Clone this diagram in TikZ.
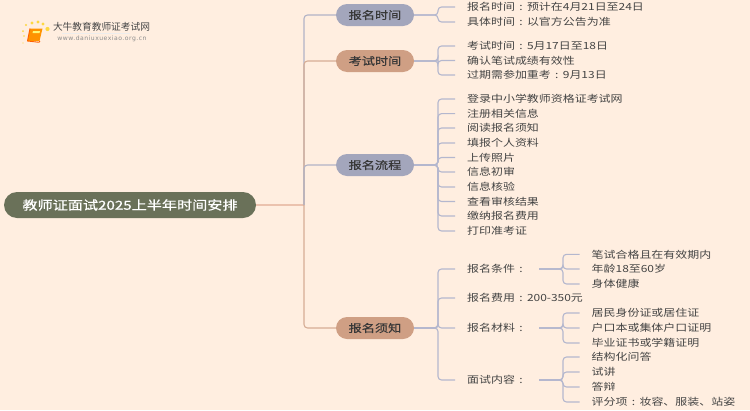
\documentclass[tikz,border=0pt]{standalone}
\usepackage{fontspec}
\setmainfont[FakeStretch=1.22]{Noto Sans CJK SC}
\newfontfamily\wideboldcjk[FakeStretch=1.22,FakeBold=0.6]{Noto Sans CJK SC}
\newfontfamily\logofont{Noto Sans CJK SC}
\newfontfamily\urlfont[LetterSpace=8]{DejaVu Sans}
\newcommand{\colonbox}{\hbox to 12pt{\hss:\hss}}
\definecolor{bgc}{HTML}{FFEEE0}
\definecolor{rootc}{HTML}{6A7159}
\definecolor{lavc}{HTML}{A3A6BC}
\definecolor{peachc}{HTML}{CF9F84}
\definecolor{stubc}{HTML}{B4B7CE}
\definecolor{rootline}{HTML}{EBC2AE}
\definecolor{textc}{HTML}{444444}
\tikzset{
  x=1pt,y=-1pt,
  rootbox/.style={draw=none,fill=rootc,rounded corners=13pt,minimum width=252pt,minimum height=26pt,inner sep=0pt,text=white,font=\wideboldcjk\fontsize{12.4}{14}\selectfont},
  topicbox/.style={draw=none,rounded corners=11pt,minimum width=78pt,minimum height=22pt,inner sep=0pt,text=black!78,font=\wideboldcjk\fontsize{10.8}{12}\selectfont},
  leafbox/.style={anchor=west,inner xsep=12pt,inner ysep=0pt,text=textc,font=\fontsize{9.8}{11}\selectfont},
  lavline/.style={draw=lavc!85,line width=1.1pt,rounded corners=3.5pt},
  peachline/.style={draw=peachc!85,line width=1.1pt,rounded corners=3.5pt},
  stubline/.style={draw=stubc,line width=1.1pt,rounded corners=3.5pt},
}
\begin{document}
\begin{tikzpicture}
\useasboundingbox (0,0) rectangle (750,410);
\fill[bgc] (0,0) rectangle (750,410);
% logo
\foreach \a/\b/\r in {23/43/0.7,24/36/0.9,23/31/1.0,26/25/1.2,32/23/1.6,38/22/1.7,43/24/1.6,47.5/29/2.1}{\fill[yellow!65!orange!75] (\a,\b) circle (\r);}
\fill[orange!85!yellow] (30,28.5) -- (42.5,28.5) -- (39.5,41) -- (27.5,41) -- cycle;
\draw[orange!75!red,line width=0.9pt,line join=round] (30,28.5) -- (27.5,41) -- (39,42.3) -- (40,41);
\fill[yellow!55] (33,31) -- (40,31) -- (39.5,33) -- (32.5,33) -- cycle;
\fill[black!7] (62,33.2) rectangle (130,34);
\node[inner sep=0pt,text=black!72] (logoA) at (101.5,27) {\logofont\fontsize{9.7}{12}\selectfont 大牛教育教师证考试网};
\node[inner sep=0pt,text=black!45] (logoB) at (102,39) {\urlfont\fontsize{6.1}{7}\selectfont www.daniuxuexiao.org.cn};
% anchors for trunk and brackets
\coordinate (trunk) at (304,0);
\coordinate (brA) at (438,0);
\coordinate (brB) at (563,0);
% root + topics
\node[rootbox] (root) at (130,205) {教师证面试2025上半年时间安排};
\node[topicbox,fill=lavc] (t1) at (375,15) {报名时间};
\node[topicbox,fill=peachc] (t2) at (375,61) {考试时间};
\node[topicbox,fill=lavc] (t3) at (375,165) {报名流程};
\node[topicbox,fill=peachc] (t4) at (375,328) {报名须知};
% leaves
\foreach \n/\y/\s in {
 a1/7/{报名时间\colonbox 预计在4月21日至24日},a2/22/{具体时间\colonbox 以官方公告为准},
 b1/46/{考试时间\colonbox 5月17日至18日},b2/60.5/{确认笔试成绩有效性},b3/75/{过期需参加重考\colonbox 9月13日},
 c1/99/{登录中小学教师资格证考试网},c2/113.6/{注册相关信息},c3/128/{阅读报名须知},c4/143/{填报个人资料},c5/157.5/{上传照片},c6/172/{信息初审},c7/187/{信息核验},c8/201.5/{查看审核结果},c9/216/{缴纳报名费用},c10/231/{打印准考证},
 d1/269/{报名条件\colonbox},d2/298/{报名费用\colonbox 200-350元},d3/328/{报名材料\colonbox},d4/380/{面试内容\colonbox}}
 {\node[leafbox] (\n) at (455,\y) {\s};}
\foreach \n/\y/\s in {
 e1/254.3/{笔试合格且在有效期内},e2/269/{年龄18至60岁},e3/284/{身体健康},
 f1/313/{居民身份证或居住证},f2/328/{户口本或集体户口证明},f3/343/{毕业证书或学籍证明},
 g1/357/{结构化问答},g2/372/{试讲},g3/387/{答辩},g4/402/{评分项\colonbox 妆容、服装、站姿}}
 {\node[leafbox] (\n) at (579.5,\y) {\s};}
% trunk connectors, later ones lie over earlier ones
\draw[rootline,line width=1.1pt] (root.east) -- (root.east -| trunk);
\draw[lavline] (root.east -| trunk) |- (t1.west);
\draw[peachline] (root.east -| trunk) |- (t2.west);
\draw[lavline] (root.east -| trunk) |- (t3.west);
\draw[peachline] (root.east -| trunk) |- (t4.west);
% leaf connectors
\foreach \p/\q in {t1/a1,t1/a2,t2/b1,t2/b2,t2/b3,t3/c1,t3/c2,t3/c3,t3/c4,t3/c5,t3/c6,t3/c7,t3/c8,t3/c9,t3/c10,t4/d1,t4/d2,t4/d3,t4/d4}
 {\draw[stubline] (\p.east) -- (\p.east -| brA) |- (\q.west);}
\foreach \p/\q in {d1/e1,d1/e2,d1/e3,d3/f1,d3/f2,d3/f3,d4/g1,d4/g2,d4/g3,d4/g4}
 {\draw[stubline] (\p.east) -- (\p.east -| brB) |- (\q.west);}
\end{tikzpicture}
\end{document}
